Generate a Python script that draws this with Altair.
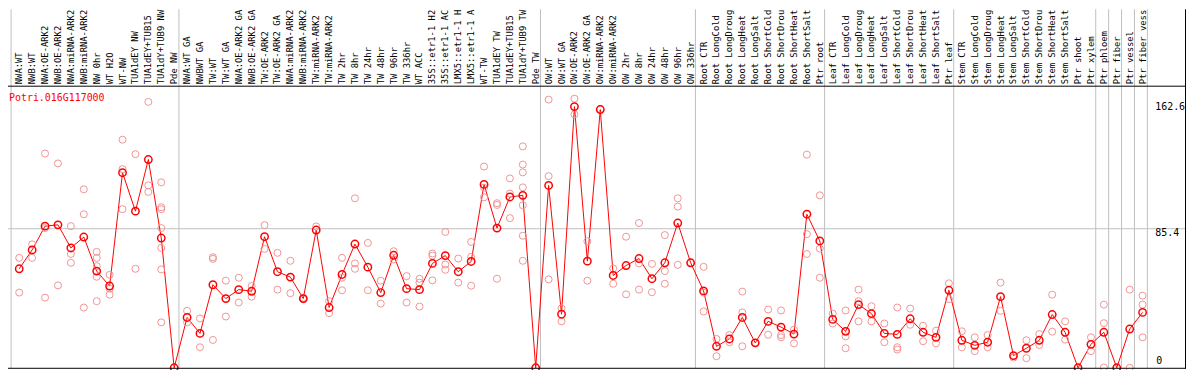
import altair as alt
import pandas as pd

gene = "Potri.016G117000"

labels = [
    "NWA:WT", "NWB:WT", "NWA:OE-ARK2", "NWB:OE-ARK2", "NWA:miRNA-ARK2", "NWB:miRNA-ARK2",
    "NW 0hr", "WT H2O", "WT-NW", "TUA1dEY NW", "TUA1dEY+TUB15 NW", "TUA1dY+TUB9 NW", "Pde NW",
    "NWA:WT GA", "NWBWT GA", "TW:WT", "TW:WT GA", "NWA:OE-ARK2 GA", "NWB:OE-ARK2 GA",
    "TW:OE-ARK2", "TW:OE-ARK2 GA", "NWA:miRNA-ARK2 GA", "NWB:miRNA-ARK2 GA", "TW:miRNA-ARK2",
    "TW:miRNA-ARK2 GA", "TW 2hr", "TW 8hr", "TW 24hr", "TW 48hr", "TW 96hr", "TW 336hr",
    "WT ACC", "35S::etr1-1 H2O", "35S::etr1-1 ACC", "LMX5::etr1-1 H2O", "LMX5::etr1-1 ACC",
    "WT-TW", "TUA1dEY TW", "TUA1dEY+TUB15 TW", "TUA1dY+TUB9 TW", "Pde TW",
    "OW:WT", "OW:WT GA", "OW:OE-ARK2", "OW:OE-ARK2 GA", "OW:miRNA-ARK2", "OW:miRNA-ARK2 GA",
    "OW 2hr", "OW 8hr", "OW 24hr", "OW 48hr", "OW 96hr", "OW 336hr",
    "Root CTR", "Root LongCold", "Root LongDrought", "Root LongHeat", "Root LongSalt",
    "Root ShortCold", "Root ShortDrought", "Root ShortHeat", "Root ShortSalt", "Ptr root",
    "Leaf CTR", "Leaf LongCold", "Leaf LongDrought", "Leaf LongHeat", "Leaf LongSalt",
    "Leaf ShortCold", "Leaf ShortDrought", "Leaf ShortHeat", "Leaf ShortSalt", "Ptr leaf",
    "Stem CTR", "Stem LongCold", "Stem LongDrought", "Stem LongHeat", "Stem LongSalt",
    "Stem ShortCold", "Stem ShortDrought", "Stem ShortHeat", "Stem ShortSalt",
    "Ptr shoot", "Ptr xylem", "Ptr phloem", "Ptr fiber", "Ptr vessel", "Ptr fiber vessel",
]

means = [
    60.8, 72.4, 87.0, 87.8, 73.6, 80.3, 59.4, 50.2, 119.8, 96.2, 127.9, 79.7, 0.0,
    30.9, 21.1, 51.0, 42.5, 48.0, 47.0, 80.5, 59.0, 55.7, 42.5, 84.6, 37.0, 57.3, 76.0,
    61.8, 46.2, 69.1, 48.6, 48.0, 64.1, 68.9, 59.0, 65.3, 112.6, 85.8, 104.9, 105.9, 0.0,
    112.0, 32.9, 160.4, 65.5, 158.6, 56.7, 62.8, 67.1, 54.7, 64.5, 88.9, 64.5,
    47.2, 13.2, 17.7, 30.9, 15.3, 28.5, 25.0, 20.7, 94.3, 77.9,
    29.7, 22.4, 38.8, 33.3, 21.1, 20.5, 30.1, 21.8, 18.7, 47.6,
    16.9, 13.8, 15.7, 43.7, 7.5, 12.0, 16.9, 32.7, 21.8,
    0.0, 14.4, 21.8, 0.0, 23.8, 34.0,
]

replicates = [
    [67.5, 46.2], [75.8, 67.5], [131.6, 85.8, 43.1], [125.5, 50.6], [87.0, 69.9, 64.5],
    [109.6, 94.3, 37.0], [71.2, 67.5, 62.4, 55.9, 40.9], [57.1, 48.6, 44.9],
    [140.1, 122.0, 97.4], [131.2, 60.8], [163.3, 112.0, 108.0],
    [113.9, 98.6, 97.4, 85.8, 73.6, 60.4, 27.9], [0.0],
    [35.0, 27.9], [30.3, 12.6], [67.9, 66.9, 17.1], [53.5, 31.5], [55.3, 40.1], [50.2, 43.7],
    [87.6, 73.0], [70.6, 48.0], [65.7, 45.8], [43.1, 42.1], [86.8], [40.9, 33.6],
    [67.5, 55.3, 47.6], [104.1, 64.1, 60.8], [76.7, 47.6], [53.5, 39.4], [71.6, 66.5],
    [56.3, 40.1], [54.7, 52.3, 37.6], [70.2, 68.9, 53.7], [83.4, 63.4, 60.2], [67.1, 52.3],
    [77.3, 68.1, 50.4], [123.6, 110.6, 104.7], [101.1, 100.0, 54.7], [116.3, 107.0, 91.9],
    [136.0, 124.8, 120.0, 110.8, 99.8, 81.1, 65.7], [0.0],
    [164.7, 117.7, 54.3], [36.6, 28.5], [165.3, 155.6], [77.7, 53.5], [159.0], [61.0, 51.6],
    [80.5, 45.1], [88.9, 64.1, 48.0], [63.8, 46.4], [81.5, 59.4, 51.6], [104.1, 99.0, 63.2],
    [64.5],
    [62.0, 46.2, 34.6], [17.7, 7.1], [20.1, 15.7], [46.8, 34.0, 13.2], [15.3], [35.8, 20.3],
    [35.2, 20.1, 18.7], [23.4, 15.0], [130.9, 82.1, 69.9], [105.9, 73.2, 55.3],
    [33.3, 27.2], [35.2, 19.3, 12.0], [48.0, 40.9, 28.5], [37.8, 28.5], [27.2, 15.7],
    [37.0, 12.6, 11.2], [36.4, 26.4], [25.8, 16.3], [22.8, 15.0], [51.9, 42.1],
    [22.4, 12.6], [18.7, 10.2], [20.1, 12.6], [52.3, 35.0], [6.3], [16.9, 5.9], [20.7, 14.0],
    [44.9, 22.2], [28.5, 17.3],
    [0.0], [18.7, 10.2], [38.8, 27.4, 0.2], [0.0], [48.0, 0.0], [44.3, 38.8, 18.7],
]

# first column index of each sample group (last entry closes the final group)
group_starts = [1, 14, 42, 54, 64, 74, 85, 86, 87, 88, 89]

tick_values = [0, 85.4, 162.6]

# the header shows at most this many characters of each sample name
header_chars = 14

W, H = 1186, 362
FONT = "DejaVu Sans Mono"

idx = list(range(1, len(labels) + 1))
df_main = pd.DataFrame({"idx": idx, "label": labels, "mean": means})
df_rep = pd.DataFrame(
    [{"idx": i, "value": v} for i, reps in zip(idx, replicates) for v in reps]
)
df_groups = pd.DataFrame({"start": group_starts})
df_ticks = pd.DataFrame({"value": tick_values, "text": [str(t) for t in tick_values]})

xs = alt.Scale(domain=[1, 88], range=[11.3, 11.3 + 87 * 13], zero=False, nice=False)
ys = alt.Scale(domain=[0, 162.6], range=[361, 361 - 162.6 * 1.6393], zero=False, nice=False)

grey = "#c0c0c0"

vlines = (
    alt.Chart(df_groups)
    .transform_calculate(pos="datum.start - 0.63")
    .mark_rule(color=grey, strokeWidth=1)
    .encode(x=alt.X("pos:Q", scale=xs, axis=None), y=alt.value(0), y2=alt.value(H))
)

hgrid = (
    alt.Chart(df_ticks)
    .transform_filter("datum.value > 0 && datum.value < 100")
    .mark_rule(color=grey, strokeWidth=1)
    .encode(y=alt.Y("value:Q", scale=ys, axis=None), x=alt.value(0), x2=alt.value(W))
)

line = (
    alt.Chart(df_main)
    .mark_line(color="#ff0000", strokeWidth=1)
    .encode(
        x=alt.X("idx:Q", scale=xs, axis=None),
        y=alt.Y("mean:Q", scale=ys, axis=None),
        order="idx:Q",
    )
)

reps = (
    alt.Chart(df_rep)
    .mark_point(shape="circle", filled=False, color="#f09494", size=50, strokeWidth=1, opacity=1)
    .encode(x=alt.X("idx:Q", scale=xs, axis=None), y=alt.Y("value:Q", scale=ys, axis=None))
)

mains = (
    alt.Chart(df_main)
    .mark_point(shape="circle", filled=False, color="#ff0000", size=55, strokeWidth=1.5, opacity=1)
    .encode(x=alt.X("idx:Q", scale=xs, axis=None), y=alt.Y("mean:Q", scale=ys, axis=None))
)

header = (
    alt.Chart(df_main)
    .transform_calculate(short=f"substring(datum.label, 0, {header_chars})")
    .mark_text(angle=270, align="left", baseline="middle", font=FONT, fontSize=8.9, color="black")
    .encode(x=alt.X("idx:Q", scale=xs, axis=None), y=alt.value(75.5), text="short:N")
)

title = (
    alt.Chart(pd.DataFrame({"t": [gene]}))
    .mark_text(align="left", baseline="middle", font=FONT, fontSize=10, color="#ff0000")
    .encode(x=alt.value(1), y=alt.value(89), text="t:N")
)

tick_top = (
    alt.Chart(df_ticks)
    .transform_filter("datum.value > 0")
    .mark_text(align="left", baseline="middle", dy=4.5, font=FONT, fontSize=10, color="black")
    .encode(x=alt.value(1155), y=alt.Y("value:Q", scale=ys, axis=None), text="text:N")
)

tick_zero = (
    alt.Chart(df_ticks)
    .transform_filter("datum.value == 0")
    .mark_text(align="left", baseline="middle", dy=-7, font=FONT, fontSize=10, color="black")
    .encode(x=alt.value(1156), y=alt.Y("value:Q", scale=ys, axis=None), text="text:N")
)

border_df = pd.DataFrame({"k": [0]})
right_border = alt.Chart(border_df).mark_rule(color="black", strokeWidth=1).encode(
    x=alt.value(W - 0.5), y=alt.value(0), y2=alt.value(H)
)
bottom_border = alt.Chart(border_df).mark_rule(color="black", strokeWidth=1).encode(
    y=alt.value(H - 0.5), x=alt.value(0), x2=alt.value(W)
)
header_line = alt.Chart(border_df).mark_rule(color="black", strokeWidth=1).encode(
    y=alt.value(77.5), x=alt.value(0), x2=alt.value(W)
)

chart = (
    alt.layer(
        vlines, hgrid, line, reps, mains, header, title, tick_top, tick_zero,
        right_border, bottom_border, header_line,
    )
    .properties(
        width=W,
        height=H,
        autosize=alt.AutoSizeParams(type="none"),
        padding=0,
        background="white",
    )
    .configure_view(stroke=None)
)

chart.save("out.html", embed_options={"renderer": "svg", "actions": False})
